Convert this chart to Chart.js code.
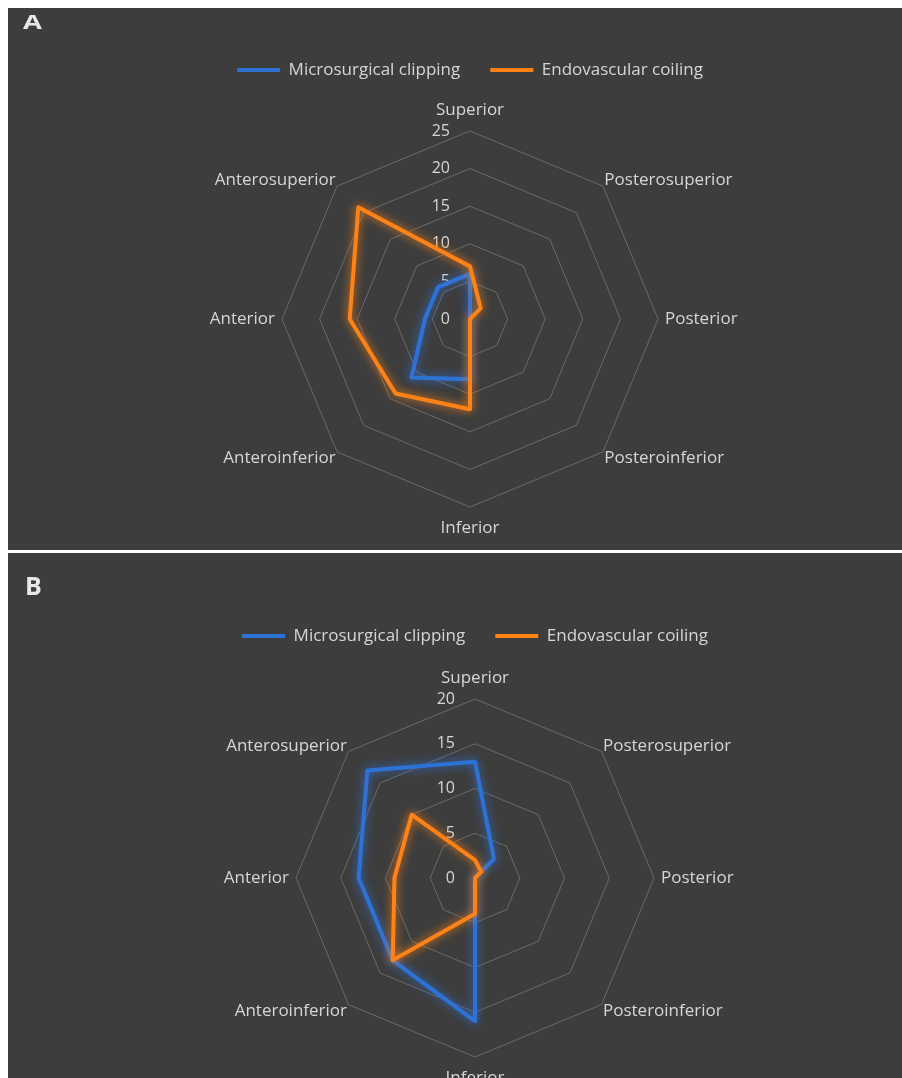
<!DOCTYPE html>
<html>
<head>
<meta charset="utf-8">
<script src="https://cdn.jsdelivr.net/npm/chart.js@4/dist/chart.umd.min.js"></script>
<style>
  html, body { margin: 0; padding: 0; background: #ffffff; width: 902px; height: 1078px; overflow: hidden; position: relative; font-family: "Open Sans", sans-serif; }
  .panel { position: absolute; left: 8px; width: 894px; background: #3d3d3d; overflow: hidden; }
  #panelA { top: 8px; height: 542px; }
  #panelB { top: 553px; height: 525px; }
  .tag { position: absolute; color: #e8e8e8; font-weight: bold; font-family: "Open Sans", sans-serif; line-height: normal; z-index: 2; transform-origin: left top; }
  .wrap { position: absolute; left: 0; }
</style>
</head>
<body>
<div class="panel" id="panelA">
  <div class="tag" style="left:15px; top:0px; font-size:19.6px; transform:scaleX(1.4);">A</div>
  <div class="wrap" style="top:0; width:924px; height:542px;"><canvas id="chartA"></canvas></div>
</div>
<div class="panel" id="panelB">
  <div class="tag" style="left:17px; top:15px; font-size:25px;">B</div>
  <div class="wrap" style="top:0; width:934px; height:560px;"><canvas id="chartB"></canvas></div>
</div>
<script>
// Directions around the aneurysm dome, clockwise from the top
const directions = ['Superior', 'Posterosuperior', 'Posterior', 'Posteroinferior',
                    'Inferior', 'Anteroinferior', 'Anterior', 'Anterosuperior'];
const seriesNames = ['Microsurgical clipping', 'Endovascular coiling'];

// Panel A counts
const clippingA = [6, 0, 0, 0, 8, 11, 6, 6];
const coilingA  = [7, 2, 0, 0, 12, 14, 16, 21];
const maxA = 25;

// Panel B counts
const clippingB = [13, 3, 0, 0, 16, 13, 13, 17];
const coilingB  = [2, 1, 0, 0, 4, 13, 9, 10];
const maxB = 20;

const tickStep = 5;
const blue = '#2f72d6';
const orange = '#ff8216';
const textColor = '#d6d6d6';
const gridColor = '#6a6a6a';
const labelFont = { family: '"Open Sans", sans-serif', size: 17 };

// Soft glow around each series line
const glow = {
  id: 'glow',
  beforeDatasetDraw(chart, args) {
    const ds = chart.data.datasets[args.index];
    chart.ctx.save();
    chart.ctx.shadowColor = ds.borderColor;
    chart.ctx.shadowBlur = 10;
  },
  afterDatasetDraw(chart) {
    chart.ctx.restore();
  }
};

// Value labels set just left of the vertical axis, centred on each ring
const sideTicks = {
  id: 'sideTicks',
  beforeDatasetsDraw(chart) {
    const r = chart.scales.r;
    const ctx = chart.ctx;
    ctx.save();
    ctx.fillStyle = textColor;
    ctx.font = '16px "Open Sans", sans-serif';
    ctx.textAlign = 'right';
    ctx.textBaseline = 'middle';
    r.ticks.forEach(t => {
      const d = r.getDistanceFromCenterForValue(t.value);
      ctx.fillText(String(t.value), r.xCenter - 20, r.yCenter - d);
    });
    ctx.restore();
  }
};

// Extra room between the legend and the radar
function legendGap(extra) {
  return {
    id: 'legendGap',
    beforeInit(chart) {
      const fit = chart.legend.fit;
      chart.legend.fit = function () {
        fit.bind(chart.legend)();
        this.height += extra;
      };
    }
  };
}

// Diagonal labels sit a little nearer the horizontal midline
const diagonalLabelShift = {
  id: 'diagonalLabelShift',
  afterLayout(chart) {
    const items = chart.scales.r._pointLabelItems || [];
    items.forEach((item, i) => {
      let dy = 0;
      if (i === 1 || i === 7) dy = 6;
      if (i === 3 || i === 5) dy = -5;
      item.y += dy; item.top += dy; item.bottom += dy;
    });
  }
};

// Label distance from the outer ring: axis ends, sides, diagonals
function labelPadding(ctx) {
  const i = ctx.index;
  if (i === 0 || i === 4) return 11;
  if (i === 2 || i === 6) return 7;
  return 2;
}

function makeRadar(id, clipping, coiling, maxVal, pad, gap) {
  return new Chart(document.getElementById(id), {
    type: 'radar',
    data: {
      labels: directions,
      datasets: [
        { label: seriesNames[0], data: clipping, borderColor: blue, backgroundColor: blue,
          borderWidth: 4, fill: false, pointRadius: 0, pointHoverRadius: 0,
          borderJoinStyle: 'round', order: 1 },
        { label: seriesNames[1], data: coiling, borderColor: orange, backgroundColor: orange,
          borderWidth: 4, fill: false, pointRadius: 0, pointHoverRadius: 0,
          borderJoinStyle: 'round', order: 0 }
      ]
    },
    options: {
      responsive: true,
      maintainAspectRatio: false,
      animation: false,
      layout: { padding: pad },
      plugins: {
        tooltip: { enabled: false },
        legend: {
          position: 'top',
          labels: {
            usePointStyle: true,
            pointStyle: 'line',
            pointStyleWidth: 43,
            color: textColor,
            font: labelFont,
            padding: 30,
            sort: (a, b) => a.datasetIndex - b.datasetIndex
          }
        }
      },
      scales: {
        r: {
          min: 0,
          max: maxVal,
          ticks: { stepSize: tickStep, display: false },
          grid: { color: gridColor, lineWidth: 1 },
          angleLines: { display: false },
          pointLabels: {
            color: textColor,
            font: labelFont,
            padding: labelPadding
          }
        }
      }
    },
    plugins: [glow, sideTicks, legendGap(gap), diagonalLabelShift]
  });
}

makeRadar('chartA', clippingA, coilingA, maxA, { top: 23.5, bottom: 10.6, left: 0, right: 0 }, 12.1);
makeRadar('chartB', clippingB, coilingB, maxB, { top: 44.5, bottom: 24.6, left: 0, right: 0 }, 13.1);
</script>
</body>
</html>
